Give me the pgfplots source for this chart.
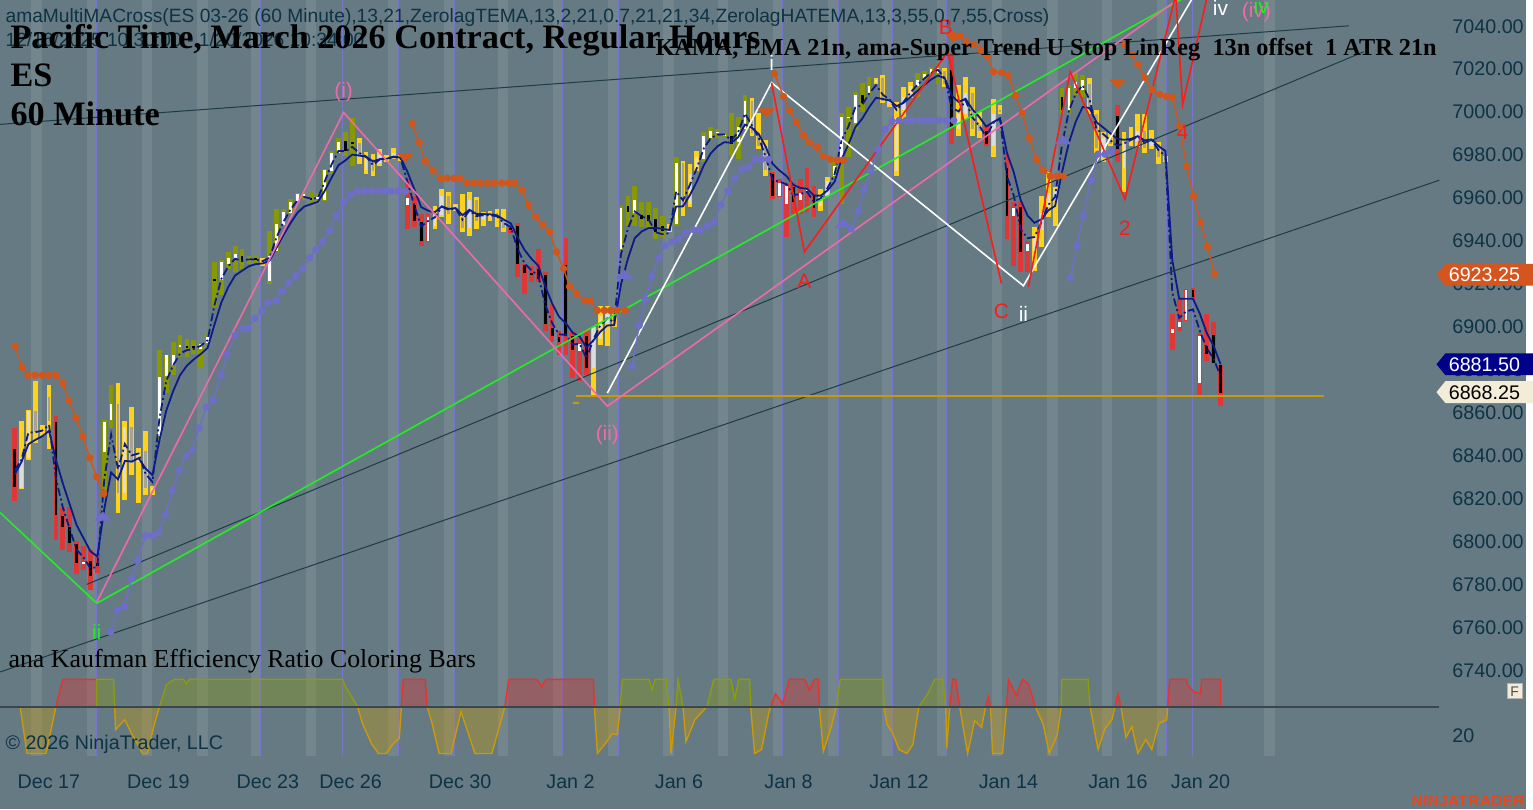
\documentclass[border=0pt]{standalone}
\usepackage{pgfplots}
\pgfplotsset{compat=1.18}
\usepackage{pgfplotstable}
\usepgfplotslibrary{fillbetween}
\usepackage{fontspec}
\setmainfont{Liberation Sans}
\newfontfamily\serifb{Liberation Serif}
\newcommand\lbl{\fontsize{9.9}{11}\selectfont}
\newcommand\wl{\fontsize{10.5}{12}\selectfont}
\definecolor{bg}{HTML}{657A83}
\definecolor{band}{HTML}{73868D}
\definecolor{vline}{HTML}{7676CF}
\definecolor{txt}{HTML}{0E3344}
\definecolor{cR}{HTML}{E03636}
\definecolor{cG}{HTML}{889800}
\definecolor{cY}{HTML}{FFD21A}
\definecolor{bodyY}{HTML}{DCDCDC}
\definecolor{bodyYd}{HTML}{A8A490}
\definecolor{navy}{HTML}{0C1A8A}
\definecolor{fillB}{HTML}{7DB0D8}
\definecolor{fillP}{HTML}{C07C7E}
\definecolor{stopO}{HTML}{D0561C}
\definecolor{stopB}{HTML}{6E6EC8}
\definecolor{slate}{HTML}{1E3C46}
\definecolor{lgreen}{HTML}{22EE22}
\definecolor{lpink}{HTML}{F06AAA}
\definecolor{lred}{HTML}{FF1A1A}
\definecolor{gold}{HTML}{C89A0A}
\definecolor{erR}{HTML}{E8322E}
\definecolor{erG}{HTML}{8C9C0C}
\definecolor{erY}{HTML}{CC9A06}
\definecolor{tagO}{HTML}{D4561E}
\definecolor{tagN}{HTML}{00008B}
\definecolor{tagC}{HTML}{F2ECD8}
\definecolor{ninja}{HTML}{E8471C}
\definecolor{levelc}{HTML}{3A464C}

\pgfplotsset{
  wick/.style={draw=none, mark=none, forget plot,
    error bars/y dir=plus, error bars/y explicit, error bars/error mark=none,
    error bars/error bar style={line width=2.4pt, draw=#1}},
  body/.style={draw=none, mark=none, forget plot,
    error bars/y dir=plus, error bars/y explicit, error bars/error mark=none,
    error bars/error bar style={line width=1.4pt, draw=#1}},
  erRs/.style={draw=erR, fill=erR, fill opacity=0.35, line width=0.7pt},
  erGs/.style={draw=erG, fill=erG, fill opacity=0.35, line width=0.7pt},
  erYs/.style={draw=erY, fill=erY, fill opacity=0.35, line width=0.7pt},
  stopline/.style={#1, line width=0.7pt, mark=*, mark size=1.5pt},
}

\pgfplotstableread{
i O H L C k
0 6842 6851.8 6817.9 6824.4 0
1 6824 6855 6823.5 6838 2
2 6838 6860 6837 6859.5 2
3 6859.5 6873.5 6844.8 6850 2
4 6850 6853 6848 6851 2
5 6866 6871.7 6842 6855 2
6 6854.5 6857.3 6799.4 6811.4 0
7 6810.9 6814.7 6794.7 6805.8 0
8 6805.8 6815 6794 6798 0
9 6797.5 6799 6783.6 6788.7 0
10 6788.5 6796.6 6785.5 6789 0
11 6790 6795 6776.2 6783 0
12 6789 6792.4 6784 6787.3 0
13 6840.7 6855.5 6820.7 6854.5 1
14 6855.4 6871.7 6851.8 6862.8 1
15 6862.8 6872.6 6812.3 6821.6 2
16 6821.6 6855 6818 6852.2 2
17 6852 6861.5 6830 6835.5 2
18 6836 6842.5 6817 6840.5 2
19 6841 6850.4 6820.7 6824 2
20 6823 6824.8 6820.7 6824 2
21 6848 6887.9 6846.2 6875.4 1
22 6876 6885.6 6868 6885.6 1
23 6881 6892 6876.3 6885.6 1
24 6889.5 6894.9 6885 6890 1
25 6889.5 6893.4 6884.6 6889 1
26 6889.5 6892.6 6886.4 6889 1
27 6888.5 6891.2 6879.6 6891 1
28 6891.2 6895.8 6890.3 6894.3 1
29 6921 6929 6908 6920 1
30 6920.5 6929.8 6913.6 6929.3 1
31 6928 6933.8 6926 6931 1
32 6930 6936.6 6924.6 6933 1
33 6932 6935 6926 6929 1
34 6930 6932 6928 6931 1
35 6930.5 6932 6928 6930 1
36 6929.5 6931 6927 6929 2
37 6920 6943.7 6919 6932 1
38 6934.3 6953.8 6934 6946.8 1
39 6946.5 6953.8 6946 6952.5 1
40 6952 6958.4 6951.4 6957 1
41 6957.5 6961.4 6957 6960.6 1
42 6960 6961.5 6958 6960.5 1
43 6959 6962 6956 6958 1
44 6958.5 6961 6956 6959 1
45 6958 6972.3 6957.5 6971.8 1
46 6971.5 6980.7 6970 6980 1
47 6980 6987 6979.3 6985 1
48 6985.3 6989.5 6978.3 6980.7 1
49 6985 6996 6973.7 6984 1
50 6984.5 6987 6974.6 6978 2
51 6972 6980.2 6970 6977 2
52 6977 6979.3 6969 6971.7 2
53 6975 6981.6 6973.7 6979 2
54 6977 6979 6975.5 6977.5 2
55 6978 6982 6977 6980 2
56 6978 6979 6976 6977 2
57 6955.5 6967.6 6944.5 6958.8 0
58 6955.5 6960 6945.4 6948 0
59 6947.7 6951.4 6936.6 6939 0
60 6939 6951.4 6938.4 6950 0
61 6946 6955 6944.5 6951 2
62 6951 6963 6950 6960 2
63 6960 6961.6 6946.8 6951.6 2
64 6954 6956 6953 6955 2
65 6950 6960.8 6943 6945 2
66 6945 6961.6 6941.3 6958 2
67 6958 6959.4 6944.5 6948 2
68 6949 6952.6 6946 6951 2
69 6950 6953 6948 6951 2
70 6952 6953.8 6945.4 6950 2
71 6949 6953.8 6943 6945 2
72 6945 6946 6942.5 6944 0
73 6945.9 6947.3 6922 6928.3 0
74 6927.5 6928.3 6914.3 6924 0
75 6924 6927.3 6919.9 6923 0
76 6926 6935 6919.9 6921 0
77 6923 6924.6 6896.7 6900.4 0
78 6898.5 6909.7 6892 6894.8 0
79 6894 6896.7 6885.6 6892 0
80 6927.8 6940.3 6885.6 6894.8 0
81 6894.4 6896.7 6875 6887.9 0
82 6887.5 6893.5 6873.6 6891 0
83 6894.4 6897.2 6876.3 6879.6 0
84 6879.6 6899 6867 6899 2
85 6893 6908.8 6890.3 6904 2
86 6900 6908.8 6890 6905 2
87 6903.5 6905 6898.6 6900 2
88 6935 6955 6934 6954 1
89 6955 6960 6946 6952.5 1
90 6952 6964.3 6946 6958 1
91 6951 6957 6945.4 6949 1
92 6951 6957 6944.5 6948 1
93 6949 6954 6940 6943 1
94 6946 6950.5 6940.8 6943.5 1
95 6943 6947 6943 6944 2
96 6947 6977.8 6946 6975 1
97 6975 6976 6950.5 6955 2
98 6956 6974.6 6954.7 6970 2
99 6972 6980.7 6971.4 6978 2
100 6977 6989.5 6975.5 6988 1
101 6987 6991.8 6986 6990 1
102 6989 6991 6987 6989.5 1
103 6988 6989 6987 6988.5 1
104 6988 6998.7 6978.4 6984 1
105 6985 6996.4 6977 6992 1
106 6991 7007 6990.8 7004 1
107 7004 7005.7 6987.6 6989 2
108 6989 6998.7 6981.6 6983 2
109 6983 6986 6969 6972 2
110 6970 6971 6958.4 6960 0
111 6960 6967.6 6959.3 6966 0
112 6956 6966 6940.8 6964.5 0
113 6964 6966 6951.4 6957 0
114 6958 6967.6 6951.4 6961 0
115 6961.5 6973 6952.3 6962.5 0
116 6960 6964.4 6950 6954 0
117 6955 6963 6953 6960 2
118 6960 6968.5 6960 6967 2
119 6969 6975.5 6968.5 6974 1
120 6978 6998.7 6956 6996.4 1
121 6996 7001.5 6978 6996.5 1
122 6994 7008.5 6990.8 7007 1
123 7007 7012.6 6999 7003 1
124 7008 7015.4 7007 7011 1
125 7013 7015 7012 7014 2
126 7015 7016.3 7003 7004 2
127 7003 7004 7001.5 7003 2
128 6971.4 7003.4 6969 6996.8 2
129 7000 7010.8 6995.5 7006 2
130 7007 7013 7005.7 7011 2
131 7011 7017 7006 7014 1
132 7015 7018 7014 7016.5 1
133 7017 7020 7016 7019 1
134 7017 7021 7012 7019.5 1
135 7018 7019.6 7010.8 7012 2
136 7018.7 7026 6984 6991.8 0
137 6991 7011.7 6987.6 6998 2
138 6998 7015.4 6995.5 7008 2
139 7008 7010.8 6987.6 6991 2
140 6993 6999 6987 6990 2
141 6990 6993 6983 6984 0
142 6983 7004.8 6977.9 6998 2
143 7000 7002 6998 6999 2
144 6973 6980 6940 6950.5 0
145 6950.5 6957 6927 6954 0
146 6954.6 6957.5 6924.5 6933.8 0
147 6934 6938.9 6924.5 6937.5 0
148 6934 6945.4 6925 6941 2
149 6944 6959.8 6936 6952 2
150 6954.8 6970.9 6950 6961 2
151 6958 6964 6946 6962 2
152 7006 7010.3 6997.8 7000 1
153 7000 7011.7 6997.8 7010 1
154 7010 7017.7 7007 7013 1
155 7009 7016 7006 7014 1
156 7012 7015 6998 7000 2
157 6998 7000 6980 6982 2
158 6982 6989.5 6975.5 6987 2
159 6987 6989 6983 6984 2
160 6996.9 7002.4 6975.5 6981.6 0
161 6973 6989.5 6961.5 6985 2
162 6985 6992 6983 6987 2
163 6985.6 6997.8 6982.5 6990 2
164 6990 6997.8 6980 6982 2
165 6983 6990.8 6981.5 6987 2
166 6984 6985 6974.6 6978 2
167 6977 6978.5 6975.5 6976.5 2
168 6896 6905 6888 6898 0
169 6899 6912 6896.7 6901 0
170 6902 6916.7 6901.8 6916 0
171 6916 6917 6912 6913 0
172 6872.6 6895.8 6867 6894.8 0
173 6890 6905 6882.8 6886 0
174 6895 6901.3 6882 6882 0
175 6881 6881 6862 6868.25 0
}\bars

\pgfplotstableread{
i F S
0 6832 6830
1 6837 6836
2 6849.6 6844.2
3 6849.8 6846.2
4 6850.5 6847.9
5 6853.2 6850.4
6 6828.1 6836.8
7 6814.7 6825.9
8 6804.7 6816.1
9 6795.1 6806.5
10 6791.4 6800.4
11 6786.4 6794.3
12 6787.0 6791.9
13 6827.5 6813.8
14 6848.7 6831.0
15 6832.5 6827.8
16 6844.3 6836.4
17 6839.0 6836.1
18 6839.9 6837.7
19 6830.4 6832.9
20 6826.6 6829.8
21 6855.8 6845.8
22 6873.7 6859.8
23 6880.9 6868.9
24 6886.4 6876.3
25 6888.0 6880.8
26 6888.6 6883.7
27 6890.0 6886.2
28 6892.6 6889.0
29 6909.0 6899.9
30 6921.2 6910.2
31 6927.1 6917.4
32 6930.6 6922.8
33 6929.6 6925.0
34 6930.4 6927.1
35 6930.2 6928.1
36 6929.5 6928.4
37 6931.0 6929.7
38 6940.5 6935.7
39 6947.7 6941.6
40 6953.3 6947.0
41 6957.7 6951.8
42 6959.4 6954.9
43 6958.6 6956.0
44 6958.8 6957.1
45 6966.6 6962.2
46 6974.6 6968.4
47 6980.8 6974.2
48 6980.7 6976.4
49 6982.7 6979.1
50 6979.9 6978.7
51 6978.2 6978.1
52 6974.3 6975.9
53 6976.9 6977.0
54 6977.1 6977.2
55 6978.0 6978.2
56 6977.5 6977.7
57 6966.4 6971.1
58 6955.4 6963.0
59 6945.6 6954.6
60 6948.2 6953.0
61 6949.9 6952.3
62 6954.8 6955.0
63 6953.4 6953.8
64 6954.0 6954.2
65 6948.8 6950.9
66 6953.0 6953.4
67 6950.5 6951.5
68 6950.8 6951.4
69 6950.9 6951.3
70 6950.4 6950.8
71 6947.2 6948.8
72 6945.3 6947.1
73 6935.1 6940.5
74 6928.4 6934.7
75 6925.2 6930.6
76 6922.7 6927.3
77 6909.3 6917.8
78 6900.6 6909.8
79 6895.4 6903.6
80 6895.1 6900.5
81 6890.7 6896.1
82 6890.9 6894.3
83 6884.2 6889.2
84 6893.1 6892.6
85 6899.6 6896.6
86 6902.8 6899.5
87 6901.1 6899.7
88 6932.8 6918.7
89 6944.6 6930.6
90 6952.6 6940.2
91 6950.4 6943.3
92 6949.0 6944.9
93 6943.0 6945.0
94 6942.0 6944.5
95 6942.5 6944.0
96 6962.0 6954.9
97 6957.8 6955.0
98 6965.1 6960.3
99 6972.8 6966.5
100 6981.9 6974.0
101 6986.8 6979.6
102 6988.4 6983.0
103 6988.5 6984.9
104 6985.8 6984.6
105 6989.5 6987.2
106 6998.2 6993.1
107 6992.7 6991.6
108 6986.9 6988.6
109 6978.0 6982.8
110 6967.2 6974.8
111 6966.5 6971.7
112 6965.3 6969.2
113 6960.3 6965.0
114 6960.7 6963.6
115 6961.8 6963.2
116 6957.1 6960.0
117 6958.8 6960.0
118 6963.7 6962.5
119 6969.9 6966.5
120 6985.8 6976.9
121 6992.2 6983.8
122 7001.1 6991.9
123 7002.2 6995.8
124 7007.5 7001.1
125 7011.4 7005.6
126 7007.0 7005.0
127 7004.6 7004.3
128 6999.9 7001.7
129 7003.6 7003.2
130 7008.0 7005.9
131 7011.6 7008.7
132 7014.5 7011.5
133 7017.2 7014.1
134 7018.6 7016.0
135 7014.6 7014.6
136 7000.9 7006.6
137 6999.2 7003.6
138 7004.5 7005.1
139 6996.4 7000.2
140 6992.6 6996.6
141 6987.4 6992.2
142 6993.8 6994.2
143 6995.9 6996.0
144 6969.1 6980.0
145 6960.0 6970.9
146 6944.3 6957.9
147 6940.2 6950.7
148 6940.7 6947.3
149 6947.5 6948.9
150 6955.6 6953.1
151 6959.4 6955.2
152 6983.8 6970.9
153 6999.5 6984.6
154 7007.6 6994.5
155 7011.4 7001.3
156 7004.6 7000.8
157 6991.0 6994.2
158 6988.6 6991.7
159 6985.8 6989.0
160 6983.3 6986.5
161 6984.3 6986.0
162 6985.9 6986.4
163 6987.5 6987.7
164 6984.6 6985.7
165 6986.0 6986.2
166 6981.2 6983.1
167 6978.4 6980.8
168 6915 6930
169 6903 6912
170 6906 6912
171 6907 6912
172 6897 6905
173 6889 6896
174 6884 6890
175 6876 6881.5
}\ma

\begin{document}
\begin{tikzpicture}
\begin{scope}[x=0.5pt,y=-0.5pt]
\fill[bg] (0,0) rectangle (1533,813);
\path[use as bounding box] (0,0) rectangle (1533,813);
\end{scope}

% ---------------- main price panel ----------------
\begin{axis}[
  at={(0pt,-355pt)}, anchor=south west, scale only axis,
  width=723pt, height=355pt,
  xmin=0, xmax=1446, ymin=6721.916, ymax=7051.128,
  axis line style={draw=none}, major tick length=0pt,
  xtick=\empty, ytick={6740,6760,...,7040},
  yticklabel pos=right,
  yticklabel style={font=\lbl, text=txt, xshift=3pt, yshift=-1.2pt},
  /pgf/number format/fixed, /pgf/number format/fixed zerofill,
  /pgf/number format/precision=2, /pgf/number format/1000 sep={},
  /pgf/number format/assume math mode=true,
]
% session bands and separators
\pgfplotsinvokeforeach{41,97,152,208,262,317,400,456,510,565,621,676,731,786,842,896,951,1006,1062,1117,1172}{
  \fill[band] ([xshift=-5pt]axis cs:#1,6700) rectangle (axis cs:#1,7100);
}
\fill[band] (axis cs:1270,6700) rectangle (axis cs:1281,7100);
\pgfplotsinvokeforeach{41,97,152,208,262,317,344,400,456,510,565,621,676,731,786,842,896,951,1006,1062,1117,1172,1198}{
  \draw[vline, line width=0.5pt] (axis cs:#1,6700) -- (axis cs:#1,7100);
}

% moving average ribbon
\addplot[name path=F, draw=none, forget plot] table[x expr=14.5+6.923*\thisrow{i}, y=F]{\ma};
\addplot[name path=S, draw=none, forget plot] table[x expr=14.5+6.923*\thisrow{i}, y=S]{\ma};
\addplot[fill=fillB, draw=none] fill between[of=F and S, soft clip={domain=14.5:52.6}];
\addplot[fill=fillP, draw=none] fill between[of=F and S, soft clip={domain=52.6:101.0}];
\addplot[fill=fillB, draw=none] fill between[of=F and S, soft clip={domain=101.0:142.6}];
\addplot[fill=fillP, draw=none] fill between[of=F and S, soft clip={domain=142.6:156.4}];
\addplot[fill=fillB, draw=none] fill between[of=F and S, soft clip={domain=156.4:371.0}];
\addplot[fill=fillP, draw=none] fill between[of=F and S, soft clip={domain=371.0:592.6}];
\addplot[fill=fillB, draw=none] fill between[of=F and S, soft clip={domain=592.6:654.9}];
\addplot[fill=fillP, draw=none] fill between[of=F and S, soft clip={domain=654.9:675.6}];
\addplot[fill=fillB, draw=none] fill between[of=F and S, soft clip={domain=675.6:758.7}];
\addplot[fill=fillP, draw=none] fill between[of=F and S, soft clip={domain=758.7:827.9}];
\addplot[fill=fillB, draw=none] fill between[of=F and S, soft clip={domain=827.9:897.2}];
\addplot[fill=fillP, draw=none] fill between[of=F and S, soft clip={domain=897.2:904.1}];
\addplot[fill=fillB, draw=none] fill between[of=F and S, soft clip={domain=904.1:949.1}];
\addplot[fill=fillP, draw=none] fill between[of=F and S, soft clip={domain=949.1:1049.5}];
\addplot[fill=fillB, draw=none] fill between[of=F and S, soft clip={domain=1049.5:1098.0}];
\addplot[fill=fillP, draw=none] fill between[of=F and S, soft clip={domain=1098.0:1226}];

% candles: ranges
\addplot[wick=cR, restrict expr to domain={\thisrow{k}}{-0.5:0.5}]
  table[x expr=14.5+6.923*\thisrow{i}, y=L, y error plus expr=\thisrow{H}-\thisrow{L}]{\bars};
\addplot[wick=cG, restrict expr to domain={\thisrow{k}}{0.5:1.5}]
  table[x expr=14.5+6.923*\thisrow{i}, y=L, y error plus expr=\thisrow{H}-\thisrow{L}]{\bars};
\addplot[wick=cY, restrict expr to domain={\thisrow{k}}{1.5:2.5}]
  table[x expr=14.5+6.923*\thisrow{i}, y=L, y error plus expr=\thisrow{H}-\thisrow{L}]{\bars};
% candles: bodies
\addplot[body=white, restrict expr to domain={(\thisrow{k}<1.5)*(\thisrow{C}>=\thisrow{O})}{0.5:1.5}]
  table[x expr=14.5+6.923*\thisrow{i}, y expr={min(\thisrow{O},\thisrow{C})}, y error plus expr={max(abs(\thisrow{C}-\thisrow{O}),0.8)}]{\bars};
\addplot[body=black, restrict expr to domain={(\thisrow{k}<1.5)*(\thisrow{C}<\thisrow{O})}{0.5:1.5}]
  table[x expr=14.5+6.923*\thisrow{i}, y expr={min(\thisrow{O},\thisrow{C})}, y error plus expr={max(abs(\thisrow{C}-\thisrow{O}),0.8)}]{\bars};
\addplot[body=bodyY, restrict expr to domain={(\thisrow{k}>1.5)*(\thisrow{C}>=\thisrow{O})}{0.5:1.5}]
  table[x expr=14.5+6.923*\thisrow{i}, y expr={min(\thisrow{O},\thisrow{C})}, y error plus expr={max(abs(\thisrow{C}-\thisrow{O}),0.8)}]{\bars};
\addplot[body=bodyYd, restrict expr to domain={(\thisrow{k}>1.5)*(\thisrow{C}<\thisrow{O})}{0.5:1.5}]
  table[x expr=14.5+6.923*\thisrow{i}, y expr={min(\thisrow{O},\thisrow{C})}, y error plus expr={max(abs(\thisrow{C}-\thisrow{O}),0.8)}]{\bars};

% moving average lines
\addplot[navy, line width=0.9pt] table[x expr=14.5+6.923*\thisrow{i}, y=S]{\ma};
\addplot[navy, line width=0.9pt, dash pattern=on 4pt off 1.5pt on 1pt off 1.5pt] table[x expr=14.5+6.923*\thisrow{i}, y=F]{\ma};

% regression / channel lines
\addplot[slate, line width=0.5pt] coordinates {(0,6993.2) (1355,7039.1)};
\addplot[slate, line width=0.5pt] coordinates {(87,6778.9) (1370,7027.0)};
\addplot[slate, line width=0.5pt] coordinates {(0,6738.1) (1446,6967.2)};
\addplot[gold, line width=0.8pt] coordinates {(578,6866.75) (1330,6866.75)};
\addplot[gold, line width=0.8pt] coordinates {(575,6863.3) (582,6863.3)};

% wave lines
\addplot[lgreen, line width=0.8pt] coordinates {(0,6812.3) (97,6770.1) (1250,7067.8)};
\addplot[lpink, line width=0.8pt] coordinates {(97,6770.6) (345,6998.7) (610,6861.9) (1250,7073.4)};
\addplot[white, line width=0.8pt] coordinates {(610,6868.0) (775,7012.6) (1028,6918.0) (1215,7065.5)};
\addplot[lred, line width=0.8pt] coordinates {(775,7012.6) (808,6933.8) (952,7027.0) (1006,6919.0)};
\addplot[lred, line width=0.8pt] coordinates {(1033,6917.6) (1075,7017.7) (1130,6958.4) (1181,7053.4) (1188,7002.4) (1213,7053.4)};

% trailing stops
\addplot[stopline=stopO] coordinates {(15,6889.8) (22,6880.0) (28,6876.3) (35,6876.3) (42,6876.3) (49,6876.3) (56,6876.3) (63,6872.6) (69,6864.7) (76,6856.4) (83,6848.0) (90,6837.8) (97,6829.0) (104,6821.1)};
\addplot[stopline=stopO] coordinates {(414,6993.6) (421,6984.8) (427,6976.0) (435,6971.8) (442,6968.1) (449,6968.1) (456,6968.1) (462,6968.1) (469,6965.8) (476,6965.8) (483,6965.8) (490,6965.8) (497,6965.8) (504,6965.8) (511,6965.8) (517,6965.8) (524,6962.6) (531,6955.6) (538,6950.1) (545,6946.3) (552,6943.1) (559,6933.8) (566,6926.0) (572,6917.6) (579,6914.3) (587,6911.1) (593,6911.1) (600,6906.5) (607,6906.5) (613,6906.5) (620,6906.5) (628,6906.5)};
\addplot[stopline=stopO] coordinates {(778,7016.8) (787,7006.2) (793,6999.7) (800,6994.1) (807,6988.1) (813,6984.8) (821,6982.5) (827,6978.3) (834,6976.9) (841,6976.5) (847,6976.5)};
\addplot[stopline=stopO] coordinates {(957,7034.9) (964,7034.4) (971,7031.7) (978,7030.3) (985,7027.9) (992,7024.7) (998,7017.7) (1006,7017.3) (1013,7015.9) (1020,7006.6) (1027,6998.3) (1034,6986.7) (1041,6976.9) (1048,6971.8) (1055,6969.1) (1062,6969.1) (1068,6969.1)};
\addplot[stopline=stopO] coordinates {(1130,7030.3) (1137,7025.6) (1143,7021.0) (1150,7015.0) (1157,7009.4) (1165,7007.1) (1172,7006.2) (1178,7005.7) (1185,6992.2) (1192,6973.7) (1199,6959.8) (1206,6947.7) (1213,6936.2) (1220,6923.6)};
\addplot[stopline=stopB] coordinates {(111,6756.7) (118,6766.9) (125,6768.7) (132,6781.7) (138,6790.1) (146,6801.6) (153,6801.6) (159,6803.0) (166,6811.4) (173,6822.5) (180,6831.8) (187,6838.8) (193,6841.5) (200,6851.7) (207,6861.5) (214,6864.7) (222,6876.3) (228,6886.1) (236,6894.9) (243,6898.1) (249,6898.1) (256,6902.8) (263,6906.5) (269,6910.2) (277,6911.1) (283,6915.3) (290,6919.4) (297,6922.7) (304,6925.9) (311,6931.0) (317,6934.8) (324,6938.4) (331,6943.6) (338,6950.5) (345,6957.0) (352,6960.3) (359,6962.1) (366,6962.1) (373,6962.1) (380,6962.1) (387,6962.1) (393,6962.1) (400,6962.1) (407,6962.1)};
\addplot[stopline=stopB] coordinates {(635,6880.5) (642,6899.5) (648,6911.6) (655,6922.7) (662,6931.0) (668,6936.7) (675,6938.4) (682,6939.8) (689,6942.6) (697,6944.0) (703,6944.0) (710,6945.9) (717,6947.7) (724,6955.6) (731,6962.1) (738,6968.1) (745,6972.3) (752,6973.2) (758,6976.9) (765,6976.9) (772,6976.9)};
\addplot[stopline=stopB] coordinates {(855,6944.5) (862,6952.8) (868,6963.0) (875,6971.4) (882,6981.6) (889,6990.9) (896,6994.6) (903,6995.0) (910,6995.0) (917,6995.0) (924,6995.0) (930,6995.0) (937,6995.0) (944,6995.0) (951,6995.0) (958,6995.0)};
\addplot[stopline=stopB] coordinates {(1075,6921.8) (1082,6936.7) (1088,6950.5) (1096,6967.2) (1103,6979.3) (1110,6979.3) (1117,6980.7)};

% signal triangles
\addplot[only marks, mark=triangle*, mark size=4.5pt, color=stopB, mark options={yscale=0.6}] coordinates {(103,6810.0) (627,6922.7) (847,6946.3) (1068,6985.3)};
\addplot[only marks, mark=triangle*, mark size=4.5pt, color=stopO, mark options={rotate=180, yscale=0.6}] coordinates {(407,6978.3) (770,6999.2) (958,7034.0) (1123,7012.6)};

% wave labels
\node[text=lpink, font=\wl] at (axis cs:345,7008.0) {(i)};
\node[text=lpink, font=\wl] at (axis cs:610,6848.5) {(ii)};
\node[text=white, font=\wl] at (axis cs:775,7021.9) {i};
\node[text=lgreen, font=\wl] at (axis cs:97,6756.7) {ii};
\node[text=lred, font=\wl] at (axis cs:808,6919.9) {A};
\node[text=lred, font=\wl] at (axis cs:950,7038.6) {B};
\node[text=lred, font=\wl] at (axis cs:1006,6906.0) {C};
\node[text=white, font=\wl] at (axis cs:1028,6905.1) {ii};
\node[text=lred, font=\wl] at (axis cs:1130,6944.9) {2};
\node[text=lred, font=\wl] at (axis cs:1188,6989.5) {4};
\node[text=white, font=\wl] at (axis cs:1226,7047.4) {iv};
\node[text=lpink, font=\wl] at (axis cs:1262,7045.6) {(iv)};
\node[text=lgreen, font=\wl] at (axis cs:1267,7048.6) {iv};
\end{axis}

% ---------------- efficiency ratio panel ----------------
\begin{axis}[
  at={(0pt,-381pt)}, anchor=south west, scale only axis,
  width=723pt, height=41pt,
  xmin=0, xmax=1446, ymin=-52, ymax=30,
  axis line style={draw=none}, major tick length=0pt,
  ytick={-27}, yticklabels={20}, yticklabel pos=right,
  yticklabel style={font=\lbl, text=txt, xshift=3pt, yshift=-1.2pt},
  xtick={49,159,269,352,462,573,682,792,903,1013,1123,1206},
  xticklabels={Dec 17,Dec 19,Dec 23,Dec 26,Dec 30,Jan 2,Jan 6,Jan 8,Jan 12,Jan 14,Jan 16,Jan 20},
  xticklabel style={font=\lbl, text=txt, anchor=base, yshift=-15pt},
]
\pgfplotsinvokeforeach{41,97,152,208,262,317,400,456,510,565,621,676,731,786,842,896,951,1006,1062,1117,1172}{
  \fill[band] ([xshift=-5pt]axis cs:#1,-50) rectangle (axis cs:#1,0);
}
\fill[band] (axis cs:1270,-50) rectangle (axis cs:1281,0);
\pgfplotsinvokeforeach{41,97,152,208,262,317,344,400,456,510,565,621,676,731,786,842,896,951,1006,1062,1117,1172,1198}{
  \draw[vline, line width=0.5pt] (axis cs:#1,-50) -- (axis cs:#1,0);
}
\addplot[erYs] coordinates {(20,0) (27,-47) (46,-47) (56,0)} \closedcycle;
\addplot[erRs] coordinates {(56,0) (63,27.5) (97,27.5) (97,0)} \closedcycle;
\addplot[erGs] coordinates {(97,0) (97,27.5) (114,27.5) (115,0)} \closedcycle;
\addplot[erYs] coordinates {(115,0) (116,-23) (125,-13) (132,-27) (143,-47) (148,-47) (155,-17) (160,0)} \closedcycle;
\addplot[erGs] coordinates {(160,0) (167,22) (175,27.5) (184,27.5) (187,23) (190,27.5) (344,27.5) (347,20) (359,0)} \closedcycle;
\addplot[erYs] coordinates {(359,0) (364,-17) (373,-37) (380,-47) (388,-47) (395,-37) (401,-32) (403,0)} \closedcycle;
\addplot[erRs] coordinates {(403,0) (405,27.5) (427,27.5) (429,0)} \closedcycle;
\addplot[erYs] coordinates {(429,0) (434,-17) (441,-47) (453,-47) (463,-5) (477,-47) (494,-47) (507,0)} \closedcycle;
\addplot[erRs] coordinates {(507,0) (511,27.5) (539,27.5) (544,20) (548,27.5) (596,27.5) (597,0)} \closedcycle;
\addplot[erYs] coordinates {(597,0) (600,-47) (608,-37) (615,-27) (620,-28) (623,0)} \closedcycle;
\addplot[erGs] coordinates {(623,0) (625,27.5) (652,27.5) (655,17) (658,27.5) (669,27.5) (672,0)} \closedcycle;
\addplot[erYs] coordinates {(672,0) (674,-47) (679,0)} \closedcycle;
\addplot[erGs] coordinates {(679,0) (681,27.5) (686,0)} \closedcycle;
\addplot[erYs] coordinates {(686,0) (689,-35) (698,-13) (710,0)} \closedcycle;
\addplot[erGs] coordinates {(710,0) (717,27.5) (734,27.5) (738,8) (742,27.5) (753,27.5) (754,0)} \closedcycle;
\addplot[erYs] coordinates {(754,0) (758,-47) (765,-43) (772,-7) (774,0)} \closedcycle;
\addplot[erRs] coordinates {(774,0) (779,13) (786,3) (793,27.5) (808,27.5) (813,17) (818,27.5) (822,27.5) (823,0)} \closedcycle;
\addplot[erYs] coordinates {(823,0) (827,-45) (835,-20) (840,0)} \closedcycle;
\addplot[erGs] coordinates {(840,0) (844,27.5) (887,27.5) (888,0)} \closedcycle;
\addplot[erYs] coordinates {(888,0) (891,-18) (896,-25) (903,-43) (911,-47) (917,-38) (923,0)} \closedcycle;
\addplot[erGs] coordinates {(923,0) (932,13) (939,27.5) (947,27.5) (950,0)} \closedcycle;
\addplot[erYs] coordinates {(950,0) (951,-42) (954,0)} \closedcycle;
\addplot[erRs] coordinates {(954,0) (957,27.5) (960,27.5) (964,0)} \closedcycle;
\addplot[erYs] coordinates {(964,0) (972,-47) (979,-14) (986,-21) (990,0)} \closedcycle;
\addplot[erRs] coordinates {(990,0) (993,10) (995,0)} \closedcycle;
\addplot[erYs] coordinates {(995,0) (997,-47) (1007,-47) (1011,0)} \closedcycle;
\addplot[erRs] coordinates {(1011,0) (1013,27) (1021,11) (1027,27.5) (1033,23) (1040,0)} \closedcycle;
\addplot[erYs] coordinates {(1040,0) (1048,-18) (1054,-47) (1062,-28) (1066,0)} \closedcycle;
\addplot[erGs] coordinates {(1066,0) (1066.5,27.5) (1093,27.5) (1095,0)} \closedcycle;
\addplot[erYs] coordinates {(1095,0) (1103,-43) (1110,-22) (1117,-13) (1120,0)} \closedcycle;
\addplot[erRs] coordinates {(1120,0) (1123,13) (1126,0)} \closedcycle;
\addplot[erYs] coordinates {(1126,0) (1131,-31) (1137,-20) (1143,-47) (1151,-33) (1157,-43) (1164,-17) (1172,-13) (1173,0)} \closedcycle;
\addplot[erRs] coordinates {(1173,0) (1175,27.5) (1192,27.5) (1193,22) (1199,15) (1206,13) (1207,27.5) (1226,27.5) (1226,0)} \closedcycle;
\draw[levelc, line width=1pt] (axis cs:0,0) -- (axis cs:1446,0);
\end{axis}

% ---------------- texts and price tags ----------------
\begin{scope}[x=0.5pt,y=-0.5pt]
\node[anchor=base west, inner sep=0, text=txt, font=\fontsize{9.65}{11}\selectfont] at (5,23) {amaMultiMACross(ES 03-26 (60 Minute),13,21,ZerolagTEMA,13,2,21,0.7,21,21,34,ZerolagHATEMA,13,3,55,0,7,55,Cross)};
\node[anchor=base west, inner sep=0, text=txt, font=\fontsize{9.65}{11}\selectfont] at (5,47) {12/16/2025 10:30:00 - 1/20/2026 10:34:00};
\node[anchor=base west, inner sep=0, font=\serifb\bfseries\fontsize{17.2}{19}\selectfont] at (10,49) {Pacific Time, March 2026 Contract, Regular Hours};
\node[anchor=base west, inner sep=0, font=\serifb\bfseries\fontsize{17.2}{19}\selectfont] at (10,87) {ES};
\node[anchor=base west, inner sep=0, font=\serifb\bfseries\fontsize{17.2}{19}\selectfont] at (10,126) {60 Minute};
\node[anchor=base west, inner sep=0, font=\serifb\bfseries\fontsize{12.2}{14}\selectfont] at (658,56) {KAMA, EMA 21n, ama-Super Trend U Stop LinReg\ \ 13n offset\ \ 1 ATR 21n};
\node[anchor=base west, inner sep=0, font=\serifb\fontsize{13}{15}\selectfont] at (8,671) {ana Kaufman Efficiency Ratio Coloring Bars};
\node[anchor=base west, inner sep=0, text=txt, font=\lbl] at (5,753) {© 2026 NinjaTrader, LLC};
% price tags
\fill[tagO] (1443,276) -- (1452,265) -- (1540,265) -- (1540,287) -- (1452,287) -- cycle;
\node[anchor=west, inner sep=0, text=white, font=\lbl] at (1455,276.5) {6923.25};
\fill[tagN] (1443,366) -- (1452,355) -- (1540,355) -- (1540,377) -- (1452,377) -- cycle;
\node[anchor=west, inner sep=0, text=white, font=\lbl] at (1455,366.5) {6881.50};
\fill[tagC] (1443,394) -- (1452,383) -- (1540,383) -- (1540,405) -- (1452,405) -- cycle;
\node[anchor=west, inner sep=0, text=black, font=\lbl] at (1455,394.5) {6868.25};
% F box
\draw[fill=tagC, draw=gray!60] (1514,687) rectangle (1529,702);
\node[inner sep=0, text=gray!60!black, font=\fontsize{7}{8}\selectfont] at (1521.5,694.5) {F};
\node[anchor=base east, inner sep=0, text=ninja, font=\bfseries\fontsize{8}{9}\selectfont] at (1532,810) {NINJATRADER};
\end{scope}
\end{tikzpicture}
\end{document}
